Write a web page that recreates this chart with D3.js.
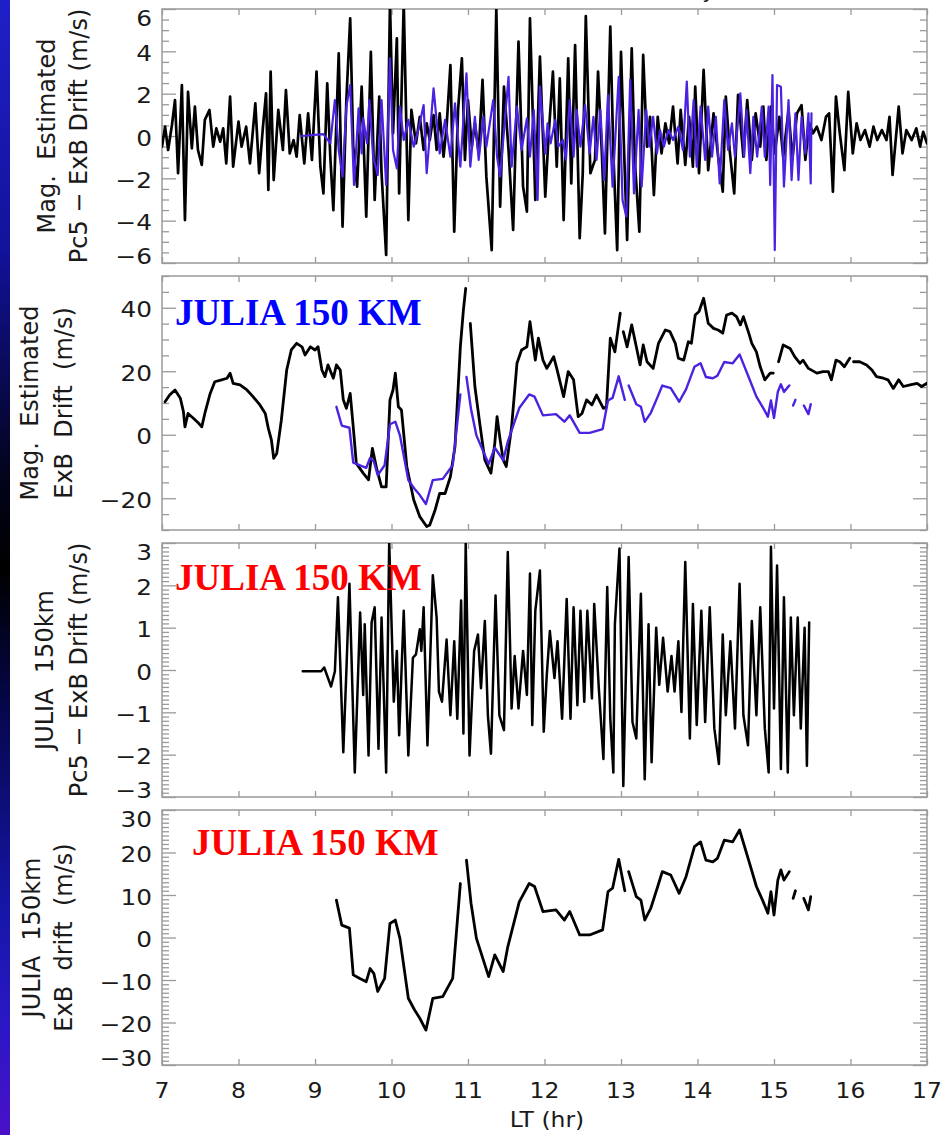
<!DOCTYPE html>
<html>
<head>
<meta charset="utf-8">
<title>JULIA 150 km ExB drift</title>
<script src="https://cdn.jsdelivr.net/npm/d3@7"></script>
<style>
  body { margin: 0; background: #fff; }
  svg { display: block; }
  .tlab { font-family: "DejaVu Sans", sans-serif; font-size: 21px; fill: #1a1a1a; }
  .ytitle { font-family: "DejaVu Sans", sans-serif; font-size: 24px; fill: #1a1a1a; white-space: pre; }
  .tag { font-family: "Liberation Serif", "Times New Roman", serif; font-weight: bold; font-size: 37px; }
</style>
</head>
<body>
<script>
// hour (LT) , m/s  -- null = gap in the record
var magPc5 = [
  [7.00,-0.50],[7.04,0.44],[7.08,-0.66],[7.13,0.52],[7.17,1.70],[7.21,-1.76],[7.26,2.41],[7.30,-3.97],[7.34,2.09],[7.39,-0.58],
  [7.43,1.39],[7.47,-0.66],[7.52,-1.37],[7.56,0.76],[7.62,1.23],[7.67,-0.50],[7.71,0.36],[7.76,-0.27],[7.80,0.36],[7.84,-1.29],
  [7.89,1.86],[7.93,-1.45],[8.00,0.68],[8.04,-0.50],[8.10,0.44],[8.15,-1.29],[8.22,1.54],[8.27,-1.76],[8.32,0.44],[8.36,2.02],
  [8.39,-2.55],[8.42,3.04],[8.46,-2.08],[8.52,1.23],[8.58,-0.66],[8.62,2.17],[8.67,-0.82],[8.72,-0.19],[8.76,-0.98],[8.80,0.99],
  [8.86,-1.29],[8.91,1.07],[8.96,-1.13],[9.02,3.04],[9.07,-1.45],[9.11,-2.71],[9.16,2.49],[9.20,-0.98],[9.24,-3.50],[9.31,3.91],
  [9.36,-4.28],[9.41,1.70],[9.46,5.56],[9.50,-0.50],[9.55,-2.39],[9.61,2.33],[9.67,-3.81],[9.73,3.98],[9.78,-3.02],[9.84,1.86],
  [9.87,-1.76],[9.93,-5.62],[9.98,6.30],[10.02,0.13],[10.07,4.61],[10.10,-2.71],[10.16,6.30],[10.22,-3.97],[10.26,1.23],[10.32,-0.35],
  [10.37,0.91],[10.42,-0.66],[10.46,0.60],[10.50,-0.19],[10.55,0.99],[10.59,-0.66],[10.63,1.07],[10.68,-0.98],[10.72,0.44],[10.77,3.35],
  [10.82,-4.52],[10.87,1.23],[10.92,3.67],[10.96,-1.13],[11.00,1.70],[11.05,-0.50],[11.09,0.60],[11.14,-0.82],[11.19,2.65],[11.24,-1.92],
  [11.31,-5.39],[11.37,6.03],[11.42,-3.34],[11.47,2.33],[11.53,-0.66],[11.59,-4.44],[11.66,4.46],[11.72,-2.39],[11.77,-3.57],[11.81,5.56],
  [11.88,-3.02],[11.94,3.75],[12.01,-2.87],[12.05,-0.19],[12.11,3.04],[12.16,-1.45],[12.20,2.72],[12.25,-3.97],[12.31,3.67],[12.35,-2.24],
  [12.40,4.30],[12.46,-4.83],[12.50,-1.76],[12.54,5.67],[12.60,-1.76],[12.66,-1.13],[12.70,3.04],[12.75,-0.82],[12.79,-4.60],[12.86,5.17],
  [12.90,-0.82],[12.95,-5.39],[13.00,3.98],[13.05,-1.76],[13.08,-4.91],[13.14,4.14],[13.18,-1.13],[13.24,-4.52],[13.29,3.83],[13.34,-0.50],
  [13.38,0.91],[13.43,-2.79],[13.48,0.91],[13.53,-0.82],[13.58,0.60],[13.63,-0.35],[13.68,1.39],[13.74,-1.29],[13.78,1.23],[13.84,-1.37],
  [13.89,0.91],[13.94,-1.45],[13.97,2.33],[14.02,-1.76],[14.08,3.12],[14.14,-1.61],[14.21,1.07],[14.27,-0.98],[14.33,-2.63],[14.37,1.86],
  [14.42,-0.66],[14.48,-2.71],[14.53,1.94],[14.60,-0.98],[14.65,1.70],[14.71,-1.13],[14.76,1.07],[14.82,-0.50],[14.86,1.39],[14.90,-1.13],
  [14.96,1.39],[15.01,-0.82],[15.07,0.91],[15.12,-0.98],[15.19,1.23],[15.24,-1.13],[15.30,1.07],[15.36,1.46],[15.41,-1.13],[15.46,0.60],
  [15.51,0.13],[15.56,0.44],[15.62,-0.19],[15.68,0.91],[15.72,1.07],[15.77,-2.63],[15.81,1.86],[15.86,0.13],[15.92,-1.61],[15.97,2.09],
  [16.03,-0.82],[16.08,0.60],[16.13,-0.19],[16.19,0.28],[16.25,-0.50],[16.30,0.44],[16.35,-0.19],[16.41,0.28],[16.47,-0.19],[16.51,0.91],
  [16.55,-1.84],[16.63,1.39],[16.68,-0.82],[16.73,0.28],[16.80,-0.19],[16.86,0.36],[16.91,-0.50],[16.95,0.20],[17.00,-0.35]
];

var juliaPc5Over = [
  [8.83,0.00],[9.11,0.09],[9.20,-0.35],[9.26,1.70],[9.31,-0.66],[9.36,-1.92],[9.41,1.39],[9.46,2.41],[9.51,-2.31],[9.57,1.31],
  [9.61,-0.82],[9.63,0.83],[9.68,-0.35],[9.71,1.70],[9.76,-0.98],[9.82,-1.84],[9.87,1.70],[9.93,-2.31],[9.98,3.67],[10.02,-0.66],
  [10.07,-1.53],[10.11,1.39],[10.16,-0.19],[10.22,0.76],[10.29,-0.50],[10.35,0.28],[10.42,1.46],[10.46,-1.76],[10.55,2.25],[10.63,-0.82],
  [10.70,0.76],[10.77,-0.98],[10.83,1.54],[10.90,-1.45],[10.98,2.96],[11.03,-1.45],[11.09,0.91],[11.14,-1.13],[11.20,0.91],[11.24,-0.50],
  [11.33,1.70],[11.38,-0.98],[11.42,-1.92],[11.53,2.80],[11.57,-1.45],[11.64,1.39],[11.70,-0.66],[11.77,0.83],[11.81,-0.98],[11.86,1.23],
  [11.91,-3.02],[11.94,2.33],[12.01,-0.82],[12.04,0.60],[12.08,-0.35],[12.14,0.76],[12.18,-0.50],[12.24,-0.19],[12.28,-1.13],[12.33,1.70],
  [12.38,-0.98],[12.42,1.23],[12.47,-0.50],[12.53,1.46],[12.59,-0.82],[12.64,0.91],[12.68,-1.13],[12.73,1.23],[12.78,-2.08],[12.83,1.94],
  [12.89,-2.39],[12.97,2.80],[13.02,-3.02],[13.07,-3.81],[13.12,2.65],[13.17,-2.71],[13.23,1.23],[13.27,-2.39],[13.33,1.23],[13.37,-0.50],
  [13.42,0.91],[13.47,-0.82],[13.51,0.28],[13.56,-0.50],[13.62,0.28],[13.68,-0.19],[13.75,0.44],[13.81,-0.66],[13.86,2.57],[13.90,-0.98],
  [13.95,1.70],[13.99,-1.45],[14.04,1.39],[14.10,-1.13],[14.14,1.39],[14.19,-0.98],[14.24,0.91],[14.29,-2.24],[14.35,1.70],[14.40,-0.66],
  [14.45,0.60],[14.49,-0.98],[14.56,2.02],[14.61,-0.98],[14.64,1.23],[14.69,-1.76],[14.73,0.91],[14.78,-0.98],[14.84,1.39],[14.88,-0.98],
  [14.93,1.39],[14.95,-2.31],[14.98,2.88],[15.01,-5.39],[15.04,2.41],[15.09,2.33],[15.13,-2.39],[15.19,1.70],[15.23,-2.08],[15.28,1.07],
  [15.32,-2.08],[15.36,0.91],[15.41,-0.82],[15.45,1.07],[15.48,-2.24],[15.49,1.07]
];

var magDrift = [
  [7.04,10.4],[7.10,12.5],[7.17,14.1],[7.24,11.5],[7.28,7.3],[7.30,2.5],[7.34,6.7],[7.41,5.2],[7.48,3.6],[7.52,2.5],
  [7.56,6.7],[7.63,13.0],[7.69,16.7],[7.78,17.3],[7.85,17.8],[7.89,19.4],[7.93,16.2],[8.02,15.7],[8.11,14.1],[8.19,12.0],
  [8.28,9.4],[8.35,6.7],[8.39,2.0],[8.43,-1.6],[8.46,-7.4],[8.50,-5.9],[8.56,4.6],[8.63,20.4],[8.69,26.7],[8.76,28.8],
  [8.83,27.7],[8.87,25.1],[8.94,27.7],[9.00,26.7],[9.04,27.7],[9.09,20.4],[9.13,18.3],[9.17,22.0],[9.24,17.8],[9.28,22.0],
  [9.33,20.4],[9.37,11.0],[9.41,8.3],[9.46,13.0],[9.50,2.5],[9.54,-9.0],[9.63,-12.1],[9.70,-14.2],[9.75,-4.3],[9.81,-11.1],
  [9.87,-16.4],[9.93,-16.4],[9.98,11.0],[10.02,14.1],[10.05,19.4],[10.09,8.8],[10.13,7.8],[10.20,-10.0],[10.29,-20.5],[10.37,-25.8],
  [10.46,-28.9],[10.50,-28.4],[10.57,-23.7],[10.63,-18.5],[10.70,-18.5],[10.77,-13.2],[10.83,-3.7],[10.90,27.7],[10.94,39.3],[10.97,46.1],
  null,
  [11.03,35.1],[11.09,15.2],[11.16,2.5],[11.22,-7.9],[11.30,-12.1],[11.35,-2.7],[11.38,5.7],[11.42,-1.6],[11.46,-7.9],[11.50,-10.0],
  [11.57,2.5],[11.64,22.5],[11.70,26.7],[11.77,27.7],[11.81,35.6],[11.88,23.5],[11.92,30.4],[11.98,23.5],[12.03,20.9],[12.07,22.5],
  [12.12,24.6],[12.16,20.9],[12.25,12.0],[12.31,19.9],[12.38,17.3],[12.44,5.7],[12.49,6.7],[12.55,11.0],[12.62,9.4],[12.68,12.5],
  [12.77,8.3],[12.81,8.8],[12.86,30.4],[12.92,26.1],[12.99,38.3],
  null,
  [13.03,32.5],[13.08,27.7],[13.14,34.6],[13.20,27.7],[13.25,22.0],[13.29,28.3],[13.34,23.0],[13.42,20.9],[13.49,28.8],[13.58,33.0],
  [13.64,32.5],[13.71,28.8],[13.75,24.1],[13.82,23.5],[13.88,29.3],[13.92,28.8],[13.97,37.7],[14.02,38.8],[14.08,43.0],[14.14,35.1],
  [14.21,33.5],[14.27,33.0],[14.33,32.0],[14.38,37.7],[14.45,38.3],[14.51,37.2],[14.56,34.6],[14.60,37.2],[14.67,32.0],[14.71,28.8],
  [14.77,26.1],[14.82,21.4],[14.88,17.3],[14.95,19.4],[14.99,19.4],
  null,
  [15.06,23.0],[15.12,28.3],[15.21,27.2],[15.27,24.6],[15.34,22.5],[15.38,23.5],[15.45,20.9],[15.56,19.4],[15.64,19.9],[15.71,19.9],
  [15.75,17.3],[15.81,23.5],[15.86,23.0],[15.92,21.4],[15.99,24.1],
  null,
  [16.04,23.0],[16.12,23.0],[16.21,22.0],[16.28,20.4],[16.34,18.3],[16.43,17.8],[16.49,17.3],[16.56,14.6],[16.63,17.3],[16.69,15.2],
  [16.78,15.7],[16.87,16.2],[16.93,15.2],[17.00,16.2]
];

var juliaDrift = [
  [9.28,8.8],[9.35,2.9],[9.45,2.2],[9.50,-8.8],[9.58,-9.6],[9.67,-10.4],[9.72,-7.3],[9.77,-8.5],[9.82,-12.7],[9.91,-9.6],
  [9.98,3.3],[10.05,4.1],[10.11,-0.2],[10.22,-14.3],[10.30,-17.0],[10.37,-19.0],[10.45,-21.8],[10.54,-14.3],[10.67,-13.9],[10.80,-9.6],
  [10.90,12.7],
  null,
  [10.98,18.2],[11.04,8.0],[11.11,-0.2],[11.27,-9.2],[11.35,-4.1],[11.46,-8.0],[11.52,-2.2],[11.67,8.4],[11.80,12.7],[11.87,12.0],
  [11.98,6.1],[12.15,6.5],[12.26,4.1],[12.33,6.1],[12.46,0.6],[12.59,0.6],[12.76,1.8],[12.83,10.8],[12.89,11.6],[12.97,18.4],
  [13.05,11.0],
  null,
  [13.10,15.5],[13.20,9.6],[13.26,8.8],[13.31,4.1],[13.39,6.9],[13.48,12.0],[13.54,15.5],[13.65,14.7],[13.76,10.4],[13.85,14.3],
  [13.96,21.4],[14.04,22.5],[14.11,18.2],[14.20,17.8],[14.26,18.6],[14.35,22.9],[14.46,22.5],[14.55,25.3],[14.68,17.5],[14.77,12.0],
  [14.85,8.8],[14.92,5.7],[14.96,10.8],[15.00,5.3],[15.05,13.5],[15.09,15.9],[15.13,13.5],[15.20,15.5],
  null,
  [15.25,9.2],[15.28,11.0],
  null,
  [15.39,9.2],[15.45,6.5],[15.48,9.6]
];

var juliaPc5 = [
  [8.84,-0.03],[9.08,-0.03],[9.12,0.06],[9.21,-0.39],[9.26,-0.03],[9.30,1.72],[9.37,-1.94],[9.41,-0.03],[9.45,2.04],[9.52,-2.42],
  [9.59,1.36],[9.63,-0.59],[9.65,1.08],[9.70,-2.02],[9.74,1.12],[9.78,1.48],[9.83,-1.86],[9.87,1.24],[9.93,-2.42],[9.97,3.03],
  [10.03,-0.75],[10.07,0.45],[10.10,-1.54],[10.16,1.40],[10.22,-2.02],[10.28,0.29],[10.32,0.37],[10.37,0.96],[10.39,0.45],[10.42,1.48],
  [10.47,-1.78],[10.54,2.24],[10.59,1.24],[10.62,-0.51],[10.66,-0.75],[10.72,0.72],[10.77,-1.07],[10.82,0.68],[10.86,-1.15],[10.91,1.64],
  [10.94,-1.50],[10.97,2.99],[11.02,-2.02],[11.08,0.45],[11.13,0.84],[11.17,-0.43],[11.22,1.16],[11.26,-1.07],[11.30,-1.98],[11.36,1.76],
  [11.41,-1.07],[11.47,-1.42],[11.52,2.79],[11.57,-0.91],[11.61,0.33],[11.66,-0.91],[11.72,0.45],[11.77,-0.59],[11.81,2.28],[11.84,-1.30],
  [11.88,1.40],[11.94,2.35],[11.99,-1.46],[12.03,-0.11],[12.07,0.92],[12.13,-0.19],[12.17,0.68],[12.23,-1.15],[12.29,1.68],[12.34,-1.15],
  [12.38,1.48],[12.43,-0.83],[12.47,1.40],[12.52,-0.75],[12.56,1.40],[12.62,-0.67],[12.65,1.56],[12.71,-0.43],[12.77,-2.10],[12.82,1.96],
  [12.86,-1.15],[12.90,-2.42],[12.92,1.08],[12.98,2.87],[13.03,-2.74],[13.10,2.67],[13.15,-1.23],[13.20,-1.62],[13.26,1.80],[13.31,-2.58],
  [13.36,1.08],[13.40,-2.18],[13.46,1.00],[13.50,-0.35],[13.55,0.76],[13.61,-0.51],[13.66,0.33],[13.70,-0.51],[13.75,0.68],[13.79,-0.99],
  [13.84,2.55],[13.90,-1.62],[13.94,1.56],[13.99,-1.30],[14.05,1.40],[14.10,-1.23],[14.16,1.48],[14.22,-1.38],[14.28,-2.22],[14.33,0.84],
  [14.37,-1.07],[14.43,0.68],[14.49,-1.38],[14.55,2.04],[14.60,-1.07],[14.66,-1.78],[14.71,1.16],[14.77,-1.07],[14.82,1.48],[14.88,-1.38],
  [14.93,-2.42],[14.96,2.91],[15.00,-0.91],[15.04,2.47],[15.09,-2.34],[15.13,1.72],[15.18,-2.42],[15.22,1.24],[15.26,-1.07],[15.31,1.24],
  [15.35,-1.38],[15.40,1.00],[15.43,-2.26],[15.46,1.12]
];

var xTicks = [7, 8, 9, 10, 11, 12, 13, 14, 15, 16, 17];
var yTicks1 = [6, 4, 2, 0, -2, -4, -6];
var yTicks2 = [40, 20, 0, -20];
var yTicks3 = [3, 2, 1, 0, -1, -2, -3];
var yTicks4 = [30, 20, 10, 0, -10, -20, -30];

var BLUE = "#4a22e0";

var W = 945, H = 1135;
var x = d3.scaleLinear().domain([7, 17]).range([162, 927]);

var panels = [
  { top: 9,   height: 254, domain: [-6, 6],   ticks: yTicks1, minor: 0.5,
    series: [{ d: magPc5, c: "#000", w: 2.7 }, { d: juliaPc5Over, c: BLUE, w: 2.2 }],
    title: ["Mag.  Estimated", "Pc5 \u2212 ExB Drift (m/s)"], tx: [55, 87] },
  { top: 276, height: 254, domain: [-30, 50], ticks: yTicks2, minor: 5,
    series: [{ d: magDrift, c: "#000", w: 2.8 }, { d: juliaDrift, c: BLUE, w: 2.4 }],
    title: ["Mag.  Estimated", "ExB  Drift  (m/s)"], tx: [38, 72],
    tag: { text: "JULIA 150 KM", color: "#0000ff", x: 175, y: 325 } },
  { top: 543, height: 254, domain: [-3, 3],   ticks: yTicks3, minor: 0.1,
    series: [{ d: juliaPc5, c: "#000", w: 2.5 }],
    title: ["JULIA  150km", "Pc5 \u2212 ExB Drift (m/s)"], tx: [53, 87],
    tag: { text: "JULIA 150 KM", color: "#ff0000", x: 175, y: 590 } },
  { top: 810, height: 255, domain: [-30, 30], ticks: yTicks4, minor: 1,
    series: [{ d: juliaDrift, c: "#000", w: 2.8 }],
    title: ["JULIA  150km", "ExB  drift  (m/s)"], tx: [40, 72],
    tag: { text: "JULIA 150 KM", color: "#ff0000", x: 192, y: 855 } }
];

var svg = d3.select("body").append("svg")
    .attr("width", W)
    .attr("height", H);

// slide strip on the left
var grad = svg.append("defs").append("linearGradient")
    .attr("id", "strip").attr("x1", 0).attr("y1", 0).attr("x2", 0).attr("y2", 1);
[[0, "#2020c8"], [0.22, "#12129a"], [0.42, "#03031c"], [0.5, "#000000"], [0.62, "#06064a"],
 [0.8, "#1616a8"], [0.9, "#2a18c4"], [1, "#4a10c8"]].forEach(function(s) {
  grad.append("stop").attr("offset", s[0]).attr("stop-color", s[1]);
});
svg.append("rect").attr("x", 0).attr("y", 0).attr("width", 10).attr("height", H)
    .attr("fill", "url(#strip)");

// remains of the slide title, cut at the top edge as in the slide
svg.append("text").attr("class", "tlab")
    .attr("x", 728).attr("y", -2).attr("text-anchor", "end")
    .text("Day ,");

var fmt = function(v) { return v < 0 ? "\u2212" + Math.abs(v) : String(v); };

panels.forEach(function(p, i) {
  var bottom = p.top + p.height;
  var y = d3.scaleLinear().domain(p.domain).range([bottom, p.top]);
  var g = svg.append("g");

  var clipId = "clip" + i;
  svg.select("defs").append("clipPath").attr("id", clipId)
    .append("rect").attr("x", x(7)).attr("y", p.top)
    .attr("width", x(17) - x(7)).attr("height", p.height);

  var minors = d3.range(p.domain[0], p.domain[1] + p.minor / 2, p.minor)
      .map(function(v) { return Math.round(v * 1000) / 1000; })
      .filter(function(v) { return p.ticks.indexOf(v) < 0; });

  function styleAxis(sel) {
    sel.select(".domain").remove();
    sel.selectAll("line").attr("stroke", "#9a9a9a").attr("stroke-width", 1.3);
    sel.selectAll("text").remove();
  }

  g.append("g").attr("transform", "translate(" + x(7) + ",0)")
      .call(d3.axisLeft(y).tickValues(p.ticks).tickSize(-14).tickSizeOuter(0)).call(styleAxis);
  g.append("g").attr("transform", "translate(" + x(7) + ",0)")
      .call(d3.axisLeft(y).tickValues(minors).tickSize(-7).tickSizeOuter(0)).call(styleAxis);
  g.append("g").attr("transform", "translate(" + x(17) + ",0)")
      .call(d3.axisRight(y).tickValues(p.ticks).tickSize(-14).tickSizeOuter(0)).call(styleAxis);
  g.append("g").attr("transform", "translate(" + x(17) + ",0)")
      .call(d3.axisRight(y).tickValues(minors).tickSize(-7).tickSizeOuter(0)).call(styleAxis);
  g.append("g").attr("transform", "translate(0," + bottom + ")")
      .call(d3.axisBottom(x).tickValues(xTicks).tickSize(-6).tickSizeOuter(0)).call(styleAxis);
  g.append("g").attr("transform", "translate(0," + p.top + ")")
      .call(d3.axisTop(x).tickValues(xTicks).tickSize(-6).tickSizeOuter(0)).call(styleAxis);

  g.append("rect")
      .attr("x", x(7)).attr("y", p.top)
      .attr("width", x(17) - x(7)).attr("height", p.height)
      .attr("fill", "none").attr("stroke", "#9a9a9a").attr("stroke-width", 1.5);

  // y tick labels, the end ones pulled inside the frame
  p.ticks.forEach(function(t) {
    var yy = Math.max(p.top + 9, Math.min(bottom - 7, y(t) + 2));
    g.append("text").attr("class", "tlab")
        .attr("text-anchor", "end")
        .attr("transform", "translate(152," + (yy + 7.5) + ") scale(1.18,1)")
        .text(fmt(t));
  });

  // axis titles
  var mid = p.top + p.height / 2;
  p.title.forEach(function(t, k) {
    g.append("text").attr("class", "ytitle")
        .attr("xml:space", "preserve")
        .attr("text-anchor", "middle")
        .attr("transform", "translate(" + p.tx[k] + "," + mid + ") rotate(-90)")
        .text(t);
  });

  var line = d3.line()
      .defined(function(d) { return d !== null; })
      .x(function(d) { return x(d[0]); })
      .y(function(d) { return y(d[1]); });

  var plot = g.append("g").attr("clip-path", "url(#" + clipId + ")");
  p.series.forEach(function(s) {
    plot.append("path")
        .attr("d", line(s.d))
        .attr("fill", "none")
        .attr("stroke", s.c)
        .attr("stroke-width", s.w)
        .attr("stroke-linejoin", "round")
        .attr("stroke-linecap", "round");
  });

  if (p.tag) {
    g.append("text").attr("class", "tag")
        .attr("x", p.tag.x).attr("y", p.tag.y)
        .attr("fill", p.tag.color)
        .text(p.tag.text);
  }

  if (i === panels.length - 1) {
    xTicks.forEach(function(t) {
      g.append("text").attr("class", "tlab")
          .attr("text-anchor", "middle")
          .attr("transform", "translate(" + x(t) + ",1098) scale(1.12,1)")
          .text(t);
    });
    g.append("text").attr("class", "tlab")
        .attr("text-anchor", "middle")
        .attr("transform", "translate(547,1127) scale(1.12,1)")
        .text("LT (hr)");
  }
});
</script>
</body>
</html>
